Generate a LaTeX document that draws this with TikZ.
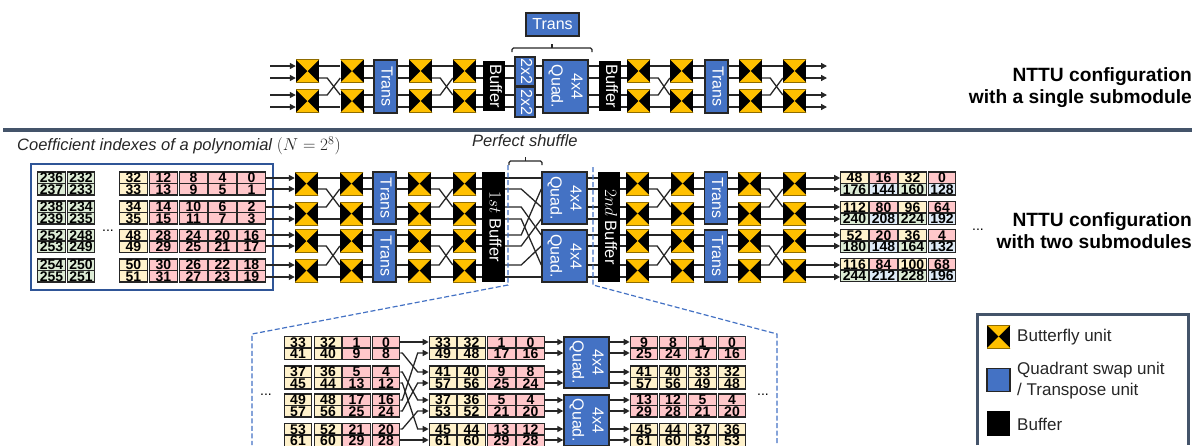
\documentclass[tikz,border=0pt]{standalone}
\usepackage{fontspec}
\setmainfont{Liberation Sans}
\usetikzlibrary{arrows.meta,calc}
\definecolor{bfy}{HTML}{FFC000}
\definecolor{bfedge}{HTML}{8F6C00}
\definecolor{unitblue}{HTML}{4472C4}
\definecolor{frameblue}{HTML}{2F5597}
\definecolor{rulecol}{HTML}{44546A}
\definecolor{ink}{HTML}{262626}
\definecolor{cy}{HTML}{FFF2CC}
\definecolor{cp}{HTML}{FFC7CA}
\definecolor{cg}{HTML}{DCEBD5}
\definecolor{cb}{HTML}{DEEAF6}
\newcommand{\fs}[2]{\fontsize{#1}{#2}\selectfont}
\newcommand{\vtxt}[1]{\rotatebox{-90}{\begin{tabular}{@{}c@{}}#1\end{tabular}}}
\tikzset{
  butterfly/.style={rectangle,fill=black,minimum size=23pt,inner sep=0pt,
    path picture={
      \fill[bfy] (-12,-12) -- (0,0) -- (12,-12) -- cycle;
      \fill[bfy] (-12,12) -- (0,0) -- (12,12) -- cycle;
      \draw[bfedge,line width=1pt] (-12,-11.5) -- (12,-11.5);
      \draw[bfedge,line width=1pt] (-12,11.5) -- (12,11.5);}},
  unit/.style={rectangle,draw=ink,line width=1.4pt,fill=unitblue,text=white,inner sep=0pt,font=\fs{16}{20}},
  bufbox/.style={rectangle,fill=black,text=white,inner sep=0pt,font=\fs{16.5}{20}},
  cell/.style={rectangle,draw=ink,line width=1.1pt,inner sep=0pt,minimum width=27.5pt,minimum height=11.5pt,text height=10pt,text depth=0pt,font=\bfseries\fs{14}{14}},
  wire/.style={draw=ink,line width=1.3pt},
  awire/.style={wire,-{Triangle[length=6pt,width=6pt]}},
  dashline/.style={draw=unitblue,line width=1.2pt,dash pattern=on 5pt off 2.5pt},
  brace/.style={draw=ink,line width=1.1pt,rounded corners=1.5pt},
  side/.style={inner sep=0pt,anchor=east,align=right,font=\bfseries\fs{19.2}{22}},
  note/.style={inner sep=0pt,anchor=west,font=\itshape\fs{16.5}{20},text=ink},
  legtxt/.style={inner sep=0pt,anchor=west,align=left,font=\fs{17}{21},text=ink},
  dotsn/.style={inner sep=0pt,anchor=base,font=\fs{14}{14}},
}
% name, x, y(row centre), fill a, fill b, text a, text b
\newcommand{\cellpair}[7]{%
  \node[cell,fill=#4] (#1a) at (#2,#3-5.75) {#6};
  \node[cell,fill=#5] (#1b) at (#2,#3+5.75) {#7};}
\begin{document}
\begin{tikzpicture}[x=1pt,y=-1pt]
\useasboundingbox (0,0) rectangle (1192,445);
\clip (0,0) rectangle (1192,445);
% levels
\foreach \n/\y in {T1/66,T2/78,T3/95,T4/107,L1/178,L2/189,L3/207,L4/219,L5/235,L6/246,L7/265,L8/277,B1/342,B2/353,B3/372,B4/383,B5/400,B6/411,B7/429,B8/440}
  \coordinate (\n) at (0,\y);
\coordinate (startT) at (270,0);
\coordinate (endT) at (827,0);
% --- top section ---
\node[unit,minimum width=53pt,minimum height=23pt] (transtop) at (552.5,24.5) {Trans};
\foreach \c/\x in {1/307.5,2/352,3/420.5,4/464.5,5/638.5,6/681.5,7/750.5,8/794.5}
  \foreach \r/\y in {1/71,2/101}
    \node[butterfly] (s\r-\c) at (\x,\y) {};
\node[unit,minimum width=23pt,minimum height=53pt] (ta) at (385.5,86.5) {\vtxt{Trans}};
\node[unit,minimum width=23pt,minimum height=53pt] (tb) at (716.5,86.5) {\vtxt{Trans}};
\node[bufbox,minimum width=22pt,minimum height=50pt] (ba) at (494,86) {\vtxt{Buffer}};
\node[bufbox,minimum width=22pt,minimum height=50pt] (bb) at (610,86) {\vtxt{Buffer}};
\node[unit,minimum width=18pt,minimum height=29pt] (x2a) at (525,71.5) {\vtxt{2x2}};
\node[unit,minimum width=18pt,minimum height=30pt] (x2b) at (525,102) {\vtxt{2x2}};
\node[unit,minimum width=45pt,minimum height=53pt] (q0) at (565.5,86.5) {\vtxt{4x4\\Quad.}};
\foreach \L/\r/\X in {T1/1/x2a,T2/1/x2a,T3/2/x2b,T4/2/x2b}{
  \draw[awire] (startT |- \L) -- (s\r-1.west |- \L);
  \draw[wire] (s\r-2.east |- \L) -- (ta.west |- \L);
  \draw[wire] (ta.east |- \L) -- (s\r-3.west |- \L);
  \draw[wire] (s\r-4.east |- \L) -- (ba.west |- \L);
  \draw[wire] (ba.east |- \L) -- (\X.west |- \L);
  \draw[wire] (\X.east |- \L) -- (q0.west |- \L);
  \draw[wire] (q0.east |- \L) -- (bb.west |- \L);
  \draw[wire] (bb.east |- \L) -- (s\r-5.west |- \L);
  \draw[wire] (s\r-6.east |- \L) -- (tb.west |- \L);
  \draw[wire] (tb.east |- \L) -- (s\r-7.west |- \L);
  \draw[awire] (s\r-8.east |- \L) -- (endT |- \L);
}
\foreach \p/\q in {1/2,3/4,5/6,7/8}{
  \draw[wire] (s1-\p.east |- T1) -- (s1-\q.west |- T1);
  \draw[wire] (s2-\p.east |- T4) -- (s2-\q.west |- T4);
  \draw[wire] (s1-\p.east |- T2) -- ++(8,0) -- (s2-\q.west |- T3);
  \draw[wire] (s2-\p.east |- T3) -- ++(8,0) -- (s1-\q.west |- T2);
}
\coordinate (brT) at (552,44);
\draw[brace] (512,52) -- (512,48) -- (592,48) -- (592,52);
\draw[brace,rounded corners=0pt] (552,48) -- (brT);
\node[side] (cfgone) at (1192,87.5) {NTTU configuration\\with a single submodule};
% divider
\draw[rulecol,line width=3.5pt] (3,130) -- (1192,130);
% --- middle section ---
\node[note] (coef) at (17,146) {Coefficient indexes of a polynomial \upshape$(N=2^{8})$};
\node[note] (pshuf) at (472,141) {Perfect shuffle};
\node[rectangle,draw=frameblue,line width=1.4pt,minimum width=242pt,minimum height=126pt,inner sep=0pt] (inputs) at (152,227) {};
\foreach \r/\y/\ta/\tb/\tc/\td/\te/\tf/\tg/\ha/\hb/\hc/\hd/\he/\hf/\hg in {
  1/183.5/236/232/32/12/8/4/0/237/233/33/13/9/5/1,
  2/212.5/238/234/34/14/10/6/2/239/235/35/15/11/7/3,
  3/241/252/248/48/28/24/20/16/253/249/49/29/25/21/17,
  4/270.5/254/250/50/30/26/22/18/255/251/51/31/27/23/19}{
  \cellpair{in\r-1}{51.5}{\y}{cg}{cg}{\ta}{\ha}
  \cellpair{in\r-2}{81}{\y}{cg}{cg}{\tb}{\hb}
  \cellpair{in\r-3}{133.5}{\y}{cy}{cy}{\tc}{\hc}
  \cellpair{in\r-4}{163.5}{\y}{cp}{cp}{\td}{\hd}
  \cellpair{in\r-5}{193.5}{\y}{cp}{cp}{\te}{\he}
  \cellpair{in\r-6}{222.5}{\y}{cp}{cp}{\tf}{\hf}
  \cellpair{in\r-7}{251.5}{\y}{cp}{cp}{\tg}{\hg}
}
\foreach \r/\y/\ta/\tb/\tc/\td/\ha/\hb/\hc/\hd in {
  1/183.5/48/16/32/0/176/144/160/128,
  2/213/112/80/96/64/240/208/224/192,
  3/241/52/20/36/4/180/148/164/132,
  4/270/116/84/100/68/244/212/228/196}{
  \cellpair{out\r-1}{854.5}{\y}{cy}{cg}{\ta}{\ha}
  \cellpair{out\r-2}{883.5}{\y}{cp}{cb}{\tb}{\hb}
  \cellpair{out\r-3}{912.5}{\y}{cy}{cg}{\tc}{\hc}
  \cellpair{out\r-4}{942}{\y}{cp}{cb}{\td}{\hd}
}
\foreach \c/\x in {1/306.5,2/351.5,3/419.5,4/464.5,5/637.5,6/682.5,7/749.5,8/794.5}
  \foreach \r/\y in {1/183.5,2/213.5,3/241,4/270.5}
    \node[butterfly] (r\r-\c) at (\x,\y) {};
\node[unit,minimum width=23pt,minimum height=52pt] (tra) at (384.5,198) {\vtxt{Trans}};
\node[unit,minimum width=23pt,minimum height=52pt] (trb) at (384.5,256) {\vtxt{Trans}};
\node[unit,minimum width=23pt,minimum height=52pt] (trc) at (716,198) {\vtxt{Trans}};
\node[unit,minimum width=23pt,minimum height=52pt] (trd) at (716,256) {\vtxt{Trans}};
\node[unit,minimum width=45pt,minimum height=52pt] (qa) at (564.5,198) {\vtxt{4x4\\Quad.}};
\node[unit,minimum width=45pt,minimum height=52pt] (qb) at (564.5,256) {\vtxt{4x4\\Quad.}};
\node[bufbox,minimum width=23pt,minimum height=110pt] (buf1) at (493.5,227) {\vtxt{$1st$ Buffer}};
\node[bufbox,minimum width=22pt,minimum height=110pt] (buf2) at (609,227) {\vtxt{$2nd$ Buffer}};
\foreach \L/\r/\T/\U/\Q in {L1/1/tra/trc/qa,L2/1/tra/trc/qa,L3/2/tra/trc/qa,L4/2/tra/trc/qa,L5/3/trb/trd/qb,L6/3/trb/trd/qb,L7/4/trb/trd/qb,L8/4/trb/trd/qb}{
  \draw[awire] (in\r-7a.east |- \L) -- (r\r-1.west |- \L);
  \draw[wire] (r\r-2.east |- \L) -- (\T.west |- \L);
  \draw[wire] (\T.east |- \L) -- (r\r-3.west |- \L);
  \draw[wire] (r\r-4.east |- \L) -- (buf1.west |- \L);
  \draw[wire] (\Q.east |- \L) -- (buf2.west |- \L);
  \draw[wire] (buf2.east |- \L) -- (r\r-5.west |- \L);
  \draw[wire] (r\r-6.east |- \L) -- (\U.west |- \L);
  \draw[wire] (\U.east |- \L) -- (r\r-7.west |- \L);
  \draw[awire] (r\r-8.east |- \L) -- (out\r-1a.west |- \L);
}
\foreach \p/\q in {1/2,3/4,5/6,7/8}{
  \draw[wire] (r1-\p.east |- L1) -- (r1-\q.west |- L1);
  \draw[wire] (r2-\p.east |- L4) -- (r2-\q.west |- L4);
  \draw[wire] (r3-\p.east |- L5) -- (r3-\q.west |- L5);
  \draw[wire] (r4-\p.east |- L8) -- (r4-\q.west |- L8);
  \draw[wire] (r1-\p.east |- L2) -- ++(8,0) -- (r2-\q.west |- L3);
  \draw[wire] (r2-\p.east |- L3) -- ++(8,0) -- (r1-\q.west |- L2);
  \draw[wire] (r3-\p.east |- L6) -- ++(8,0) -- (r4-\q.west |- L7);
  \draw[wire] (r4-\p.east |- L7) -- ++(8,0) -- (r3-\q.west |- L6);
}
\foreach \A/\B/\Q in {L1/L1/qa,L2/L3/qa,L3/L5/qb,L4/L7/qb,L5/L2/qa,L6/L4/qa,L7/L6/qb,L8/L8/qb}
  \draw[wire] (buf1.east |- \A) -- ++(16,0) -- (\Q.west |- \B);
\draw[brace] (509,165) -- (509,161) -- (542,161) -- (542,165);
\coordinate (brM) at (525.5,157);
\draw[brace,rounded corners=0pt] (525.5,161) -- (brM);
\node[dotsn] (dotsin) at (108,231) {...};
\node[dotsn] (dotsout) at (978,230) {...};
\node[side] (cfgtwo) at (1192,230.5) {NTTU configuration\\with two submodules};
% dashed zoom frame
\draw[dashline] (508,165) -- (508,285) -- (252,334) -- (252,445);
\draw[dashline] (593,167) -- (593,285) -- (777,334) -- (777,445);
% --- bottom section ---
\foreach \r/\y/\ta/\tb/\tc/\td/\ha/\hb/\hc/\hd in {
  1/348/33/32/1/0/41/40/9/8,
  2/377.5/37/36/5/4/45/44/13/12,
  3/405.5/49/48/17/16/57/56/25/24,
  4/435/53/52/21/20/61/60/29/28}{
  \cellpair{la\r-1}{298}{\y}{cy}{cy}{\ta}{\ha}
  \cellpair{la\r-2}{328}{\y}{cy}{cy}{\tb}{\hb}
  \cellpair{la\r-3}{356.5}{\y}{cp}{cp}{\tc}{\hc}
  \cellpair{la\r-4}{386}{\y}{cp}{cp}{\td}{\hd}
}
\foreach \r/\y/\ta/\tb/\tc/\td/\ha/\hb/\hc/\hd in {
  1/348/33/32/1/0/49/48/17/16,
  2/377.5/41/40/9/8/57/56/25/24,
  3/405.5/37/36/5/4/53/52/21/20,
  4/435/45/44/13/12/61/60/29/28}{
  \cellpair{mi\r-1}{443}{\y}{cy}{cy}{\ta}{\ha}
  \cellpair{mi\r-2}{471.5}{\y}{cy}{cy}{\tb}{\hb}
  \cellpair{mi\r-3}{501.5}{\y}{cp}{cp}{\tc}{\hc}
  \cellpair{mi\r-4}{530.5}{\y}{cp}{cp}{\td}{\hd}
}
\foreach \r/\y/\f/\ta/\tb/\tc/\td/\ha/\hb/\hc/\hd in {
  1/348/cp/9/8/1/0/25/24/17/16,
  2/377.5/cy/41/40/33/32/57/56/49/48,
  3/405.5/cp/13/12/5/4/29/28/21/20,
  4/435/cy/45/44/37/36/61/60/53/53}{
  \cellpair{ri\r-1}{644}{\y}{\f}{\f}{\ta}{\ha}
  \cellpair{ri\r-2}{673}{\y}{\f}{\f}{\tb}{\hb}
  \cellpair{ri\r-3}{702.5}{\y}{\f}{\f}{\tc}{\hc}
  \cellpair{ri\r-4}{732}{\y}{\f}{\f}{\td}{\hd}
}
\node[unit,minimum width=45pt,minimum height=51pt] (qc) at (586.5,362.5) {\vtxt{4x4\\Quad.}};
\node[unit,minimum width=45pt,minimum height=51pt] (qd) at (586.5,420.5) {\vtxt{4x4\\Quad.}};
\foreach \A/\r/\B/\s in {B1/1/B1/1,B2/1/B3/2,B3/2/B5/3,B4/2/B7/4,B5/3/B2/1,B6/3/B4/2,B7/4/B6/3,B8/4/B8/4}
  \draw[awire] (la\r-4a.east |- \A) -- ++(2,0) -- ($(mi\s-1a.west |- \B)+(-11,0)$) -- (mi\s-1a.west |- \B);
\foreach \L/\r/\Q in {B1/1/qc,B2/1/qc,B3/2/qc,B4/2/qc,B5/3/qd,B6/3/qd,B7/4/qd,B8/4/qd}{
  \draw[awire] (mi\r-4a.east |- \L) -- (\Q.west |- \L);
  \draw[awire] (\Q.east |- \L) -- (ri\r-1a.west |- \L);
}
\node[dotsn] (dotsla) at (266,395) {...};
\node[dotsn] (dotsri) at (763,395) {...};
% --- legend ---
\draw[rulecol,line width=3pt] (977,445) -- (977,314) -- (1188.5,314) -- (1188.5,445);
\node[butterfly] (lega) at (998.5,336.5) {};
\node[unit,minimum size=23pt] (legb) at (998.5,380) {};
\node[bufbox,minimum width=23pt,minimum height=25pt] (legc) at (998.5,423.5) {};
\node[legtxt] (legta) at (1017,337) {Butterfly unit};
\node[legtxt] (legtb) at (1017,380.5) {Quadrant swap unit\\/ Transpose unit};
\node[legtxt] (legtc) at (1017,424) {Buffer};
\end{tikzpicture}
\end{document}
